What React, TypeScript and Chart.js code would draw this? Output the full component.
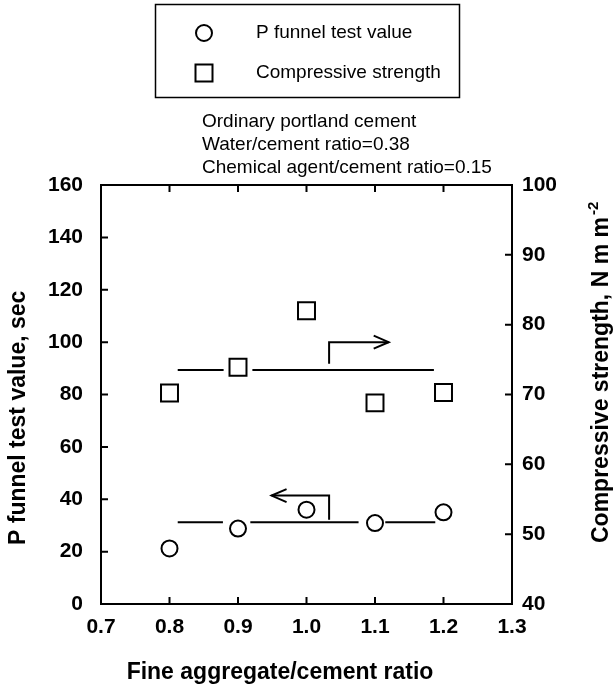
import React, { useEffect, useRef } from "react";
import { Chart, registerables } from "chart.js";

Chart.register(...registerables);

// ---------- data ----------
const ratios = [0.8, 0.9, 1.0, 1.1, 1.2];
const funnelSec = [21.2, 28.8, 36.0, 30.9, 35.0];
const strengthMPa = [70.2, 73.9, 82.0, 68.8, 70.3];

const xTicks = [0.7, 0.8, 0.9, 1.0, 1.1, 1.2, 1.3];
const yLeftTicks = [0, 20, 40, 60, 80, 100, 120, 140, 160];
const yRightTicks = [40, 50, 60, 70, 80, 90, 100];

const funnelMean = 31.2;
const strengthMean = 73.5;
const funnelMeanSegments = [
  [0.812, 0.878],
  [0.918, 1.076],
  [1.115, 1.188],
];
const strengthMeanSegments = [
  [0.812, 0.879],
  [0.921, 1.186],
];
const strengthArrow = [
  [1.033, 74.4],
  [1.033, 77.5],
  [1.12, 77.5],
];
const funnelArrow = [
  [1.033, 32.2],
  [1.033, 41.4],
  [0.949, 41.4],
];

const legendLabels = ["P funnel test value", "Compressive strength"];
const noteLines = [
  "Ordinary portland cement",
  "Water/cement ratio=0.38",
  "Chemical agent/cement ratio=0.15",
];
const xTitle = "Fine aggregate/cement ratio";
const yLeftTitle = "P funnel test value, sec";
const yRightTitle = "Compressive strength, N m m";
const yRightTitleSup = "-2";

// ---------- helpers ----------
const FONT = '"Liberation Sans", Arial, Helvetica, sans-serif';

const segData = (segs: number[][], y: number) =>
  segs.flatMap((s) => [
    { x: s[0], y },
    { x: s[1], y },
    { x: s[1], y: null as any },
  ]);

const pts = (arr: number[][]) => arr.map((p) => ({ x: p[0], y: p[1] }));

function drawArrowHead(ctx: CanvasRenderingContext2D, x1: number, y1: number, x2: number, y2: number) {
  const dx = x2 - x1;
  const dy = y2 - y1;
  const len = Math.hypot(dx, dy) || 1;
  const ux = dx / len;
  const uy = dy / len;
  const back = 15;
  const half = 6.5;
  ctx.beginPath();
  ctx.moveTo(x2 - ux * back - uy * half, y2 - uy * back + ux * half);
  ctx.lineTo(x2, y2);
  ctx.lineTo(x2 - ux * back + uy * half, y2 - uy * back - ux * half);
  ctx.stroke();
}

const decorPlugin = {
  id: "decor",
  afterDraw(chart: any) {
    const ctx: CanvasRenderingContext2D = chart.ctx;
    const { left, right, top, bottom } = chart.chartArea;
    const xs = chart.scales.x;
    const yl = chart.scales.y;
    const yr = chart.scales.y2;
    ctx.save();
    ctx.strokeStyle = "#000";
    ctx.fillStyle = "#000";
    ctx.lineWidth = 2;
    ctx.strokeRect(left, top, right - left, bottom - top);

    // inward tick marks
    const TL = 7;
    ctx.beginPath();
    xTicks.slice(1, -1).forEach((v) => {
      const px = xs.getPixelForValue(v);
      ctx.moveTo(px, bottom);
      ctx.lineTo(px, bottom - TL);
      ctx.moveTo(px, top);
      ctx.lineTo(px, top + TL);
    });
    yLeftTicks.slice(1, -1).forEach((v) => {
      const py = yl.getPixelForValue(v);
      ctx.moveTo(left, py);
      ctx.lineTo(left + TL, py);
    });
    yRightTicks.slice(1, -1).forEach((v) => {
      const py = yr.getPixelForValue(v);
      ctx.moveTo(right, py);
      ctx.lineTo(right - TL, py);
    });
    ctx.stroke();

    // arrow heads
    const sa = strengthArrow;
    drawArrowHead(
      ctx,
      xs.getPixelForValue(sa[1][0]),
      yr.getPixelForValue(sa[1][1]),
      xs.getPixelForValue(sa[2][0]),
      yr.getPixelForValue(sa[2][1])
    );
    const fa = funnelArrow;
    drawArrowHead(
      ctx,
      xs.getPixelForValue(fa[1][0]),
      yl.getPixelForValue(fa[1][1]),
      xs.getPixelForValue(fa[2][0]),
      yl.getPixelForValue(fa[2][1])
    );

    // axis titles
    ctx.font = `bold 23px ${FONT}`;
    ctx.textBaseline = "alphabetic";
    ctx.textAlign = "center";
    ctx.fillText(xTitle, 280, 679);

    ctx.save();
    ctx.translate(25, 545);
    ctx.rotate(-Math.PI / 2);
    ctx.textAlign = "left";
    ctx.fillText(yLeftTitle, 0, 0);
    ctx.restore();

    ctx.save();
    ctx.translate(608, 543);
    ctx.rotate(-Math.PI / 2);
    ctx.textAlign = "left";
    ctx.fillText(yRightTitle, 0, 0);
    const w = ctx.measureText(yRightTitle).width;
    ctx.font = `bold 15px ${FONT}`;
    ctx.fillText(yRightTitleSup, w + 2, -10);
    ctx.restore();

    // condition notes
    ctx.font = `19px ${FONT}`;
    ctx.textAlign = "left";
    ctx.textBaseline = "middle";
    noteLines.forEach((t, i) => ctx.fillText(t, 202, 122 + i * 23));

    // legend
    ctx.lineWidth = 1.5;
    ctx.strokeRect(155.5, 4.5, 304, 93);
    ctx.lineWidth = 2;
    ctx.fillStyle = "#fff";
    ctx.beginPath();
    ctx.arc(204, 33, 8, 0, Math.PI * 2);
    ctx.fill();
    ctx.stroke();
    ctx.fillRect(195.5, 64.5, 17, 17);
    ctx.strokeRect(195.5, 64.5, 17, 17);
    ctx.fillStyle = "#000";
    ctx.font = `19px ${FONT}`;
    ctx.fillText(legendLabels[0], 256, 33);
    ctx.fillText(legendLabels[1], 256, 73);

    ctx.restore();
  },
};

export default function App() {
  const canvasRef = useRef<HTMLCanvasElement | null>(null);

  useEffect(() => {
    if (!canvasRef.current) return;
    const tickFont = { family: FONT, size: 21, weight: "bold" as const };
    const chart = new Chart(canvasRef.current, {
      type: "scatter",
      data: {
        datasets: [
          {
            label: legendLabels[0],
            data: ratios.map((x, i) => ({ x, y: funnelSec[i] })),
            yAxisID: "y",
            pointStyle: "circle",
            pointRadius: 8,
            pointBackgroundColor: "#fff",
            pointBorderColor: "#000",
            pointBorderWidth: 2,
            showLine: false,
            order: 0,
          },
          {
            label: legendLabels[1],
            data: ratios.map((x, i) => ({ x, y: strengthMPa[i] })),
            yAxisID: "y2",
            pointStyle: "rect",
            pointRadius: 12,
            pointBackgroundColor: "#fff",
            pointBorderColor: "#000",
            pointBorderWidth: 2,
            showLine: false,
            order: 0,
          },
          {
            label: "funnel mean",
            data: segData(funnelMeanSegments, funnelMean),
            yAxisID: "y",
            showLine: true,
            spanGaps: false,
            borderColor: "#000",
            borderWidth: 2,
            pointRadius: 0,
            order: 1,
          },
          {
            label: "strength mean",
            data: segData(strengthMeanSegments, strengthMean),
            yAxisID: "y2",
            showLine: true,
            spanGaps: false,
            borderColor: "#000",
            borderWidth: 2,
            pointRadius: 0,
            order: 1,
          },
          {
            label: "strength arrow",
            data: pts(strengthArrow),
            yAxisID: "y2",
            showLine: true,
            borderColor: "#000",
            borderWidth: 2,
            pointRadius: 0,
            order: 1,
          },
          {
            label: "funnel arrow",
            data: pts(funnelArrow),
            yAxisID: "y",
            showLine: true,
            borderColor: "#000",
            borderWidth: 2,
            pointRadius: 0,
            order: 1,
          },
        ] as any,
      },
      options: {
        animation: false,
        responsive: false,
        devicePixelRatio: 1,
        layout: { padding: { top: 185, left: 0, right: 0, bottom: 0 } },
        plugins: {
          legend: { display: false },
          tooltip: { enabled: false },
          title: { display: false },
        },
        scales: {
          x: {
            type: "linear",
            position: "bottom",
            min: xTicks[0],
            max: xTicks[xTicks.length - 1],
            afterBuildTicks: (s: any) => {
              s.ticks = xTicks.map((v) => ({ value: v }));
            },
            afterFit: (s: any) => {
              s.height = 84;
            },
            grid: { display: false, drawTicks: false },
            border: { display: false },
            ticks: {
              color: "#000",
              font: tickFont,
              padding: 11,
              maxRotation: 0,
              autoSkip: false,
              callback: (v: any) => Number(v).toFixed(1),
            },
          },
          y: {
            type: "linear",
            position: "left",
            min: yLeftTicks[0],
            max: yLeftTicks[yLeftTicks.length - 1],
            afterBuildTicks: (s: any) => {
              s.ticks = yLeftTicks.map((v) => ({ value: v }));
            },
            afterFit: (s: any) => {
              s.width = 101;
            },
            grid: { display: false, drawTicks: false },
            border: { display: false },
            ticks: {
              color: "#000",
              font: tickFont,
              padding: 18,
              autoSkip: false,
              callback: (v: any) => String(v),
            },
          },
          y2: {
            type: "linear",
            position: "right",
            min: yRightTicks[0],
            max: yRightTicks[yRightTicks.length - 1],
            afterBuildTicks: (s: any) => {
              s.ticks = yRightTicks.map((v) => ({ value: v }));
            },
            afterFit: (s: any) => {
              s.width = 102;
            },
            grid: { display: false, drawTicks: false },
            border: { display: false },
            ticks: {
              color: "#000",
              font: tickFont,
              padding: 10,
              autoSkip: false,
              callback: (v: any) => String(v),
            },
          },
        },
      } as any,
      plugins: [decorPlugin as any],
    });
    return () => chart.destroy();
  }, []);

  return (
    <div style={{ position: "fixed", left: 0, top: 0, width: 614, height: 688, background: "#fff" }}>
      <canvas ref={canvasRef} width={614} height={688} style={{ display: "block" }} />
    </div>
  );
}
